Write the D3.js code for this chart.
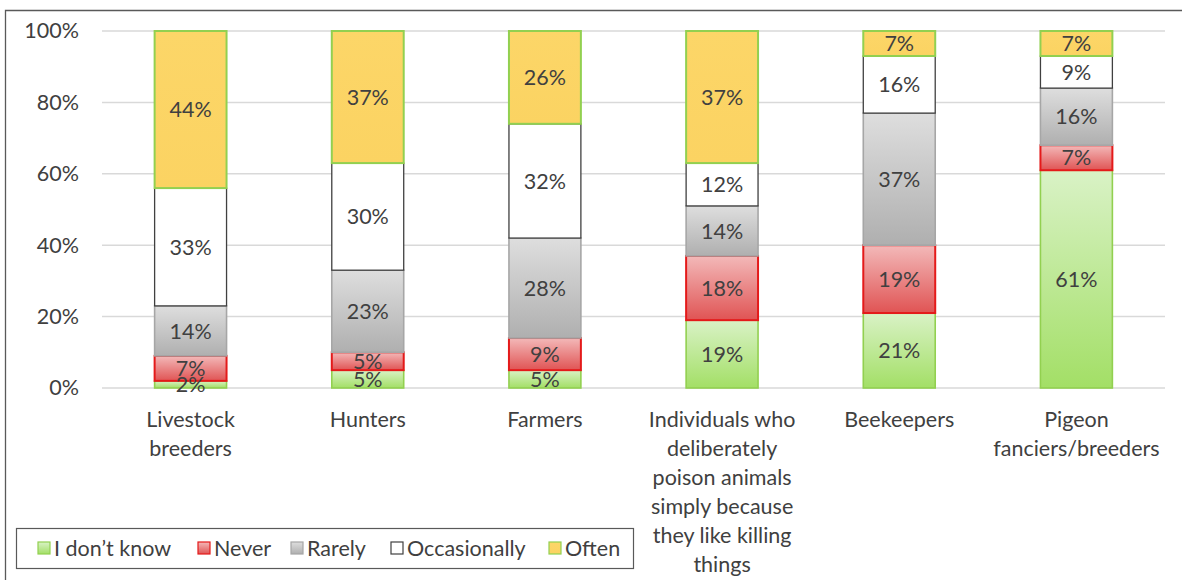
<!DOCTYPE html>
<html>
<head>
<meta charset="utf-8">
<script src="https://cdn.jsdelivr.net/npm/d3@7"></script>
<style>
  html, body { margin: 0; padding: 0; background: #fff; }
  svg { display: block; }
  text { font-family: Lato, "Open Sans", sans-serif; fill: #404040; }
</style>
</head>
<body>
<svg id="chart" width="1186" height="580"></svg>
<script>
// Respondent groups (x axis), one stacked bar each
const categories = [
  ["Livestock", "breeders"],
  ["Hunters"],
  ["Farmers"],
  ["Individuals who", "deliberately", "poison animals", "simply because", "they like killing", "things"],
  ["Beekeepers"],
  ["Pigeon", "fanciers/breeders"]
];

// Answer shares in percent, stacked bottom to top
const seriesNames = ["I don\u2019t know", "Never", "Rarely", "Occasionally", "Often"];
const dontKnow     = [2, 5, 5, 19, 21, 61];
const never        = [7, 5, 9, 18, 19, 7];
const rarely       = [14, 23, 28, 14, 37, 16];
const occasionally = [33, 30, 32, 12, 16, 9];
const often        = [44, 37, 26, 37, 7, 7];

const yTicks = [0, 20, 40, 60, 80, 100];

const seriesValues = [dontKnow, never, rarely, occasionally, often];

const FONT = 21.5;

// Look of each series: gradient stops (top, bottom) and outline
const styles = [
  { id: "g-dk",   top: "#d9f2c6", bottom: "#a3df66", stroke: "#92d050", sw: 1.6 },
  { id: "g-nev",  top: "#f3b9b9", bottom: "#e05454", stroke: "#e41a1a", sw: 2 },
  { id: "g-rar",  top: "#dedede", bottom: "#afafaf", stroke: "#a6a6a6", sw: 1.6 },
  { id: "g-occ",  top: "#ffffff", bottom: "#ffffff", stroke: "#404040", sw: 1.3 },
  { id: "g-oft",  top: "#fcd668", bottom: "#fbd362", stroke: "#92d050", sw: 2 }
];

const svg = d3.select("#chart");

// Gradients
const defs = svg.append("defs");
styles.forEach(s => {
  const g = defs.append("linearGradient")
    .attr("id", s.id).attr("x1", 0).attr("y1", 0).attr("x2", 0).attr("y2", 1);
  g.append("stop").attr("offset", "0%").attr("stop-color", s.top);
  g.append("stop").attr("offset", "100%").attr("stop-color", s.bottom);
});

// Outer frame (left and top edges)
svg.append("path")
  .attr("d", "M5.5,580 L5.5,10.5 L1182,10.5")
  .attr("fill", "none").attr("stroke", "#595959").attr("stroke-width", 1.3);

const plot = { left: 102, right: 1165, top: 31, bottom: 388 };

const x = d3.scaleBand()
  .domain(d3.range(categories.length))
  .range([plot.left, plot.right])
  .paddingInner(0.594)
  .paddingOuter(0.297);

const y = d3.scaleLinear().domain([0, 100]).range([plot.bottom, plot.top]);

// Gridlines
svg.append("g")
  .selectAll("line")
  .data(yTicks)
  .join("line")
  .attr("x1", plot.left).attr("x2", plot.right)
  .attr("y1", d => y(d)).attr("y2", d => y(d))
  .attr("stroke", "#d9d9d9").attr("stroke-width", 1.5);

// Y axis labels
const yAxis = d3.axisLeft(y).tickValues(yTicks).tickFormat(d => d + "%").tickSize(0).tickPadding(0);
const yg = svg.append("g").attr("transform", "translate(79,0)").call(yAxis);
yg.select(".domain").remove();
yg.selectAll("text").attr("font-size", FONT).attr("font-family", "Lato, 'Open Sans', sans-serif").attr("fill", "#404040");

// Stack layout
const rows = categories.map((c, i) => {
  const r = { idx: i };
  seriesNames.forEach((n, k) => r[n] = seriesValues[k][i]);
  return r;
});
const stacked = d3.stack().keys(seriesNames)(rows);

const bars = svg.append("g");
stacked.forEach((layer, k) => {
  const s = styles[k];
  bars.append("g")
    .selectAll("rect")
    .data(layer)
    .join("rect")
    .attr("x", d => x(d.data.idx))
    .attr("width", x.bandwidth())
    .attr("y", d => y(d[1]))
    .attr("height", d => y(d[0]) - y(d[1]))
    .attr("fill", `url(#${s.id})`)
    .attr("stroke", s.stroke)
    .attr("stroke-width", s.sw);
});

// Value labels centred in each segment
const labels = svg.append("g");
stacked.forEach((layer, k) => {
  labels.append("g")
    .selectAll("text")
    .data(layer)
    .join("text")
    .attr("x", d => x(d.data.idx) + x.bandwidth() / 2)
    .attr("y", d => (y(d[0]) + y(d[1])) / 2)
    .attr("dy", "0.36em")
    .attr("text-anchor", "middle")
    .attr("font-size", FONT)
    .text(d => (d[1] - d[0]) + "%");
});

// Category labels (x axis)
const xg = svg.append("g");
categories.forEach((lines, i) => {
  const t = xg.append("text")
    .attr("x", x(i) + x.bandwidth() / 2)
    .attr("y", 427)
    .attr("text-anchor", "middle")
    .attr("font-size", FONT);
  lines.forEach((ln, j) => {
    t.append("tspan").attr("x", x(i) + x.bandwidth() / 2).attr("dy", j === 0 ? 0 : 29).text(ln);
  });
});

// Legend
const legend = svg.append("g");
legend.append("rect")
  .attr("x", 16.5).attr("y", 528.5).attr("width", 617).attr("height", 40)
  .attr("fill", "#fff").attr("stroke", "#595959").attr("stroke-width", 1.2);

const legendX = [38, 198, 291, 391, 549];
seriesNames.forEach((n, k) => {
  const s = styles[k];
  legend.append("rect")
    .attr("x", legendX[k]).attr("y", 542).attr("width", 12).attr("height", 12)
    .attr("fill", `url(#${s.id})`)
    .attr("stroke", s.stroke).attr("stroke-width", 1.2);
  legend.append("text")
    .attr("x", legendX[k] + 16).attr("y", 548)
    .attr("dy", "0.36em")
    .attr("font-size", FONT)
    .text(n);
});
</script>
</body>
</html>
